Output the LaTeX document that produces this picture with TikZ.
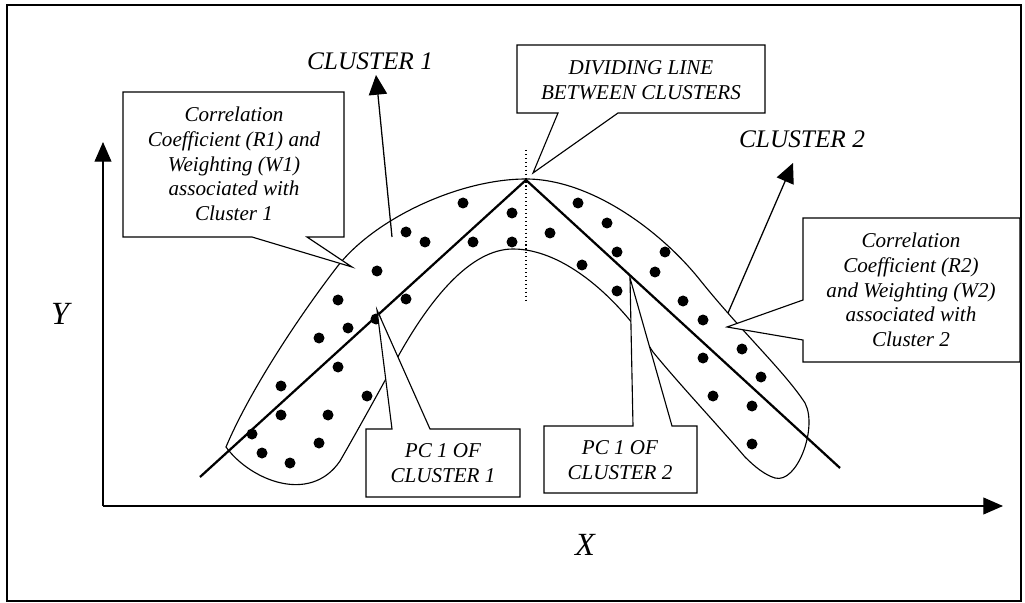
\documentclass[tikz,border=0pt]{standalone}
\usepackage{fontspec}
\setmainfont{Liberation Serif}
\usetikzlibrary{arrows.meta}

\begin{document}
\begin{tikzpicture}[x=0.025cm, y=-0.025cm,
  callout/.style={draw=black, fill=white, line width=0.8pt, line join=miter},
  calltext/.style={font=\fontsize{15}{17.6}\selectfont\itshape, align=center, inner sep=0pt},
  clusterlabel/.style={font=\fontsize{18}{21}\selectfont\itshape, inner sep=2pt},
  axislabel/.style={font=\fontsize{23}{26}\selectfont\itshape, inner sep=0pt},
  pcline/.style={line width=1.6pt},
  tiparrow/.style={-{Triangle[length=14pt,width=13pt]}, line width=0.9pt},
  datadot/.style={fill=black}]
  \useasboundingbox (0,0) rectangle (1025,603);

  % Frame
  \draw[line width=1.5pt] (7,5) rectangle (1021,601);

  % Axes
  \coordinate (origin) at (103,506);
  \coordinate (ytop) at (103,142);
  \coordinate (xright) at (1003,506);
  \draw[-{Triangle[length=14pt,width=12pt]}, line width=0.9pt] (origin) -- (ytop);
  \draw[-{Triangle[length=14pt,width=12pt]}, line width=0.9pt] (origin) -- (xright);
  \node[axislabel] (ylab) at (60,314) {Y};
  \node[axislabel] (xlab) at (585,545) {X};

  % Envelope of both clusters
  \draw[line width=0.8pt] (226,447)
    .. controls (250,390) and (300,315) .. (337,267)
    .. controls (375,218) and (460,179) .. (526,179)
    .. controls (590,179) and (660,230) .. (700,280)
    .. controls (740,330) and (785,372) .. (805,403)
    .. controls (818,428) and (797,484) .. (775,478)
    .. controls (765,475) and (755,467) .. (745,457)
    .. controls (715,422) and (680,385) .. (653,352)
    .. controls (620,300) and (565,249) .. (513,249)
    .. controls (470,249) and (430,300) .. (400,353)
    .. controls (380,390) and (355,435) .. (340,461)
    .. controls (310,505) and (250,480) .. (226,447) -- cycle;

  % Data points
  \foreach \px/\py in {463/203, 512/213, 406/232, 425/242, 473/242, 512/242,
      377/271, 338/300, 406/299, 348/328, 319/338, 376/319, 338/367, 281/386,
      367/396, 281/415, 328/415, 252/434, 319/443, 262/453, 290/463,
      578/203, 607/223, 550/233, 617/252, 665/252, 582/265, 655/272, 617/291,
      683/301, 703/320, 742/349, 703/358, 761/377, 713/396, 752/406, 752/444}
    \fill[datadot] (\px,\py) circle (5.5);

  % Principal component lines
  \coordinate (peak) at (526,180);
  \coordinate (pcAstart) at (200,477);
  \coordinate (pcBend) at (840,468);
  \draw[pcline] (pcAstart) -- (peak) -- (pcBend);

  % Dividing line
  \draw[dotted, line width=0.8pt] (526,150) -- (526,302);

  % Cluster arrows
  \node[clusterlabel] (clusA) at (370,61) {CLUSTER 1};
  \node[clusterlabel] (clusB) at (802,139) {CLUSTER 2};
  \coordinate (clusAfoot) at (392,237);
  \coordinate (clusAtip) at (376,75);
  \coordinate (clusBfoot) at (728,313);
  \coordinate (clusBtip) at (793,163);
  \draw[tiparrow] (clusAfoot) -- (clusAtip);
  \draw[tiparrow] (clusBfoot) -- (clusBtip);

  % Callout: cluster 1 correlation
  \draw[callout] (123,92) -- (344,92) -- (344,237) -- (307,237) -- (352,267)
    -- (252,237) -- (123,237) -- cycle;
  \node[calltext] (corrA) at (234,164) {Correlation\\Coefficient (R1) and\\Weighting (W1)\\associated with\\Cluster 1};

  % Callout: dividing line
  \draw[callout] (517,45) -- (765,45) -- (765,113) -- (618,113) -- (533,173)
    -- (558,113) -- (517,113) -- cycle;
  \node[calltext] (divide) at (641,80) {DIVIDING LINE\\BETWEEN CLUSTERS};

  % Callout: cluster 2 correlation
  \draw[callout] (803,218) -- (1020,218) -- (1020,362) -- (803,362) -- (803,340)
    -- (727,327) -- (803,300) -- cycle;
  \node[calltext] (corrB) at (911,290) {Correlation\\Coefficient (R2)\\and Weighting (W2)\\associated with\\Cluster 2};

  % Callout: PC 1 of cluster 1
  \draw[callout] (366,429) -- (392,429) -- (377,310) -- (430,429) -- (520,429)
    -- (520,497) -- (366,497) -- cycle;
  \node[calltext] (pcA) at (443,463) {PC 1 OF\\CLUSTER 1};

  % Callout: PC 1 of cluster 2
  \draw[callout] (544,426) -- (633,426) -- (630,278) -- (672,426) -- (697,426)
    -- (697,493) -- (544,493) -- cycle;
  \node[calltext] (pcB) at (620,460) {PC 1 OF\\CLUSTER 2};
\end{tikzpicture}
\end{document}
